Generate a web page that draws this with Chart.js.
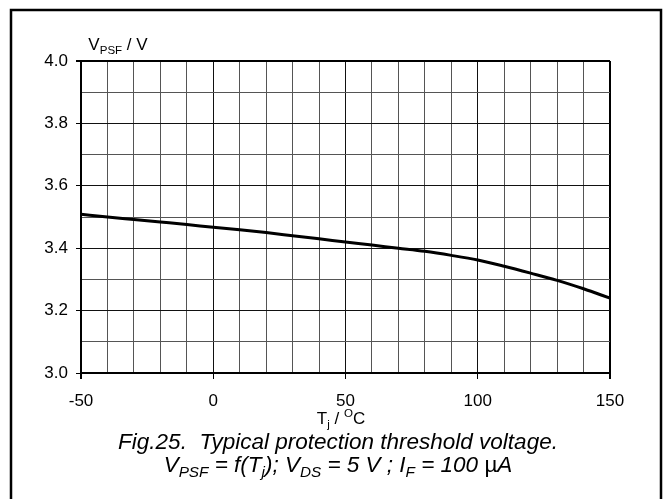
<!DOCTYPE html>
<html>
<head>
<meta charset="utf-8">
<script src="https://cdn.jsdelivr.net/npm/chart.js@4.4.0/dist/chart.umd.min.js"></script>
<style>
html,body{margin:0;padding:0;background:#fff;}
#wrap{width:667px;height:499px;position:relative;}
</style>
</head>
<body>
<div id="wrap"><canvas id="c" width="667" height="499"></canvas></div>
<script>
// Data
const temperatures = [-50,-40,-30,-20,-10,0,10,20,30,40,50,60,70,80,90,100,110,120,130,140,150];
const thresholdVoltage = [3.509,3.500,3.492,3.484,3.476,3.467,3.459,3.450,3.440,3.430,3.420,3.410,3.400,3.390,3.377,3.362,3.342,3.320,3.297,3.270,3.240];
const xTickLabels = [-50,0,50,100,150];
const yTickLabels = ['3.0','3.2','3.4','3.6','3.8','4.0'];

const FONT = '"Liberation Sans", Arial, sans-serif';

function richText(ctx, segs, cx, cy, baseSize, italic) {
  const style = italic ? 'italic ' : '';
  let total = 0;
  const measured = segs.map(s => {
    const size = s.sub || s.sup ? baseSize * 0.68 : baseSize;
    const st = s.upright ? '' : style;
    ctx.font = st + size + 'px ' + FONT;
    const w = ctx.measureText(s.t).width;
    total += w;
    return {s, size, st, w};
  });
  let x = cx - total / 2;
  ctx.textBaseline = 'alphabetic';
  ctx.textAlign = 'left';
  const base = cy + baseSize * 0.36;
  measured.forEach(m => {
    ctx.font = m.st + m.size + 'px ' + FONT;
    let y = base;
    if (m.s.sub) y = base + baseSize * 0.22;
    if (m.s.sup) y = base - baseSize * 0.4;
    ctx.fillText(m.s.t, x, y);
    x += m.w;
  });
}

const decor = {
  id: 'decor',
  beforeDraw(chart) {
    const ctx = chart.ctx;
    ctx.save();
    ctx.fillStyle = '#fff';
    ctx.fillRect(0, 0, chart.width, chart.height);
    ctx.strokeStyle = '#000';
    ctx.lineWidth = 2.5;
    ctx.strokeRect(11, 10, 650, 520);
    ctx.restore();
  },
  afterDraw(chart) {
    const ctx = chart.ctx;
    ctx.save();
    ctx.fillStyle = '#000';
    // y axis title
    richText(ctx, [{t:'V'},{t:'PSF',sub:true},{t:' / V'}], 118, 44, 17, false);
    // x axis title
    richText(ctx, [{t:'T'},{t:'j',sub:true},{t:' / '},{t:'O',sup:true},{t:'C'}], 341, 418, 17, false);
    // caption
    richText(ctx, [{t:'Fig.25.  Typical protection threshold voltage.'}], 338, 441, 22.5, true);
    richText(ctx, [{t:'V'},{t:'PSF',sub:true},{t:' = f(T'},{t:'j',sub:true},{t:'); V'},{t:'DS',sub:true},
                   {t:' = 5 V ; I'},{t:'F',sub:true},{t:' = 100 '},{t:'\u00b5',upright:true},{t:'A'}], 338, 464, 22.5, true);
    ctx.restore();
  }
};

const isMajorX = v => Math.round(v) % 50 === 0;
const isMajorY = v => Math.round(v * 10) % 2 === 0;

new Chart(document.getElementById('c'), {
  type: 'line',
  data: {
    datasets: [{
      data: temperatures.map((t, i) => ({x: t, y: thresholdVoltage[i]})),
      borderColor: '#000',
      borderWidth: 3,
      pointRadius: 0,
      cubicInterpolationMode: 'monotone',
      fill: false
    }]
  },
  options: {
    responsive: false,
    animation: false,
    devicePixelRatio: 1,
    layout: {padding: {left: 0, right: 57, top: 61, bottom: 0}},
    plugins: {legend: {display: false}, tooltip: {enabled: false}, title: {display: false}},
    scales: {
      x: {
        type: 'linear', min: -50, max: 150,
        afterFit: s => { s.height = 126; },
        ticks: {
          stepSize: 10, autoSkip: false, maxRotation: 0, padding: 12,
          color: '#000', font: {family: FONT, size: 17},
          callback: v => xTickLabels.includes(Math.round(v)) ? String(Math.round(v)) : ''
        },
        grid: {
          color: c => (c.tick && (c.tick.value === -50 || c.tick.value === 150)) ? '#000' : (c.tick && isMajorX(c.tick.value) ? '#111' : '#555'),
          lineWidth: c => (c.tick && (c.tick.value === -50 || c.tick.value === 150)) ? 2 : 1,
          tickColor: c => (c.tick && isMajorX(c.tick.value)) ? '#000' : 'rgba(0,0,0,0)',
          tickLength: 6
        },
        border: {color: '#000', width: 2}
      },
      y: {
        type: 'linear', min: 3.0, max: 4.0,
        afterFit: s => { s.width = 81; },
        ticks: {
          stepSize: 0.1, autoSkip: false, padding: 8,
          color: '#000', font: {family: FONT, size: 17},
          callback: v => { const s = v.toFixed(1); return yTickLabels.includes(s) && isMajorY(v) ? s : ''; }
        },
        grid: {
          color: c => (c.tick && (Math.abs(c.tick.value - 4) < 1e-6 || Math.abs(c.tick.value - 3) < 1e-6)) ? '#000' : (c.tick && isMajorY(c.tick.value) ? '#111' : '#555'),
          lineWidth: c => (c.tick && Math.abs(c.tick.value - 4) < 1e-6) ? 2 : 1,
          tickColor: c => (c.tick && isMajorY(c.tick.value)) ? '#000' : 'rgba(0,0,0,0)',
          tickLength: 5
        },
        border: {color: '#000', width: 2}
      }
    }
  },
  plugins: [decor]
});
</script>
</body>
</html>
